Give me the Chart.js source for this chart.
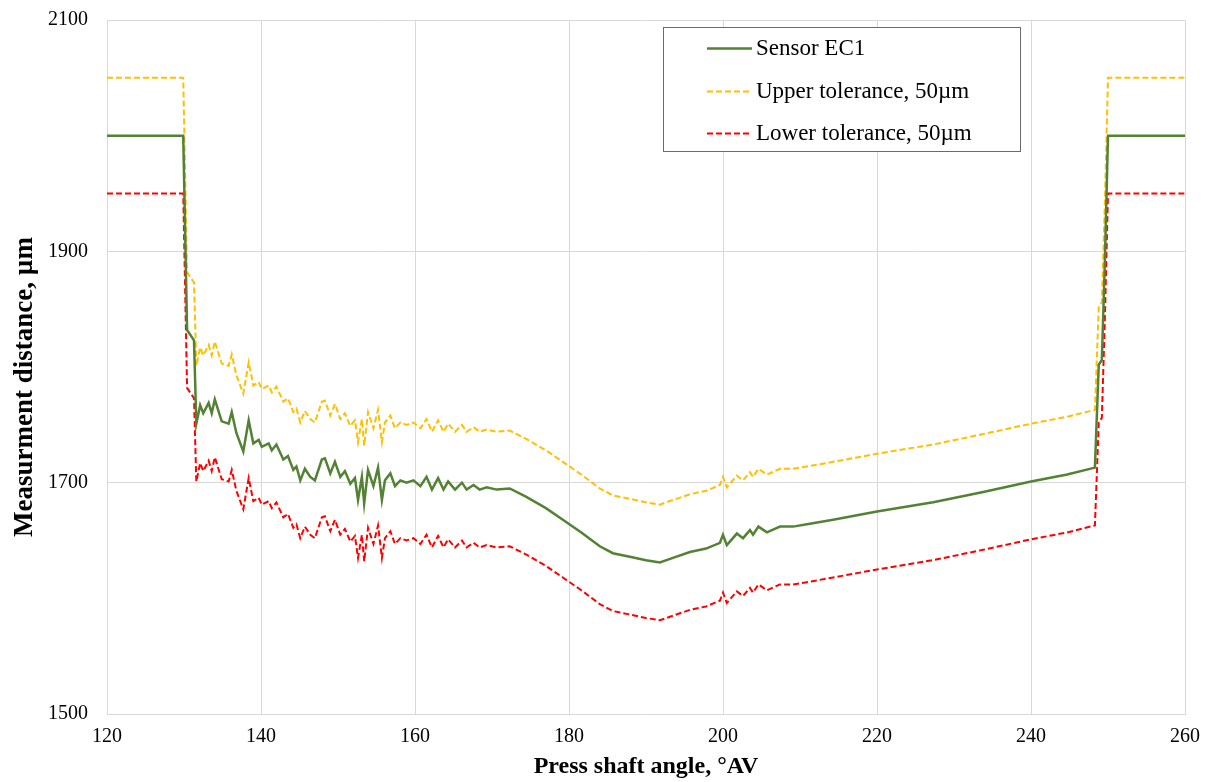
<!DOCTYPE html>
<html>
<head>
<meta charset="utf-8">
<title>Sensor EC1 measurement distance</title>
<script src="https://cdn.jsdelivr.net/npm/chart.js@4/dist/chart.umd.min.js"></script>
<style>
  html, body { margin: 0; padding: 0; background: #fff; }
  #wrap { width: 1208px; height: 782px; position: relative; }
</style>
</head>
<body>
<div id="wrap"><canvas id="grafica"></canvas></div>
<script>
// press shaft angle, °AV
const angles = [
  120, 129.9, 130.4, 131.3, 131.6, 132.1, 132.5, 133.2, 133.6, 134.0,
  134.9, 135.8, 136.2, 136.8, 137.7, 138.4, 139.0, 139.7, 140.1, 141.0,
  141.4, 142.0, 142.9, 143.5, 144.2, 144.6, 145.1, 145.7, 146.4, 147.0,
  147.9, 148.3, 149.0, 149.6, 150.3, 150.9, 151.6, 152.2, 152.6, 153.1,
  153.4, 153.9, 154.6, 155.2, 155.7, 156.1, 156.8, 157.4, 158.1, 158.9,
  159.8, 160.7, 161.5, 162.2, 163.0, 163.7, 164.3, 165.2, 166.1, 166.7,
  167.6, 168.4, 169.3, 170.6, 172.3, 174.4, 177.0, 179.2, 181.6, 184.0,
  185.7, 187.9, 190.0, 191.8, 193.5, 195.7, 197.8, 199.6, 200.0, 200.5,
  201.8, 202.6, 203.5, 203.9, 204.6, 205.7, 207.4, 209.1, 210.9, 214.3,
  220.0, 227.3, 233.8, 240.0, 244.7, 248.3, 248.8, 249.2, 249.6, 250.0,
  260
];

// measured distance, µm
const sensorEC1 = [
  2000, 2000, 1832, 1823, 1751, 1767, 1760, 1769, 1760, 1772,
  1753, 1751, 1761, 1743, 1727, 1754, 1734, 1737, 1731, 1734,
  1728, 1733, 1720, 1723, 1711, 1714, 1702, 1712, 1705, 1702,
  1720, 1721, 1708, 1718, 1705, 1710, 1699, 1704, 1685, 1705,
  1682, 1711, 1697, 1713, 1685, 1702, 1708, 1697, 1702, 1700,
  1702, 1697, 1705, 1694, 1704, 1694, 1701, 1694, 1700, 1694,
  1698, 1694, 1696, 1694, 1695, 1688, 1678, 1668, 1657, 1645,
  1639, 1636, 1633, 1631, 1635, 1640, 1643, 1648, 1655, 1646,
  1656, 1652, 1659, 1655, 1662, 1657, 1662, 1662, 1664, 1668,
  1675, 1683, 1692, 1701, 1707, 1713, 1802, 1806, 1893, 2000,
  2000
];

const upperTol = [
  2050, 2050, 1882, 1873, 1801, 1817, 1810, 1819, 1810, 1822,
  1803, 1801, 1811, 1793, 1777, 1804, 1784, 1787, 1781, 1784,
  1778, 1783, 1770, 1773, 1761, 1764, 1752, 1762, 1755, 1752,
  1770, 1771, 1758, 1768, 1755, 1760, 1749, 1754, 1735, 1755,
  1732, 1761, 1747, 1763, 1735, 1752, 1758, 1747, 1752, 1750,
  1752, 1747, 1755, 1744, 1754, 1744, 1751, 1744, 1750, 1744,
  1748, 1744, 1746, 1744, 1745, 1738, 1728, 1718, 1707, 1695,
  1689, 1686, 1683, 1681, 1685, 1690, 1693, 1698, 1705, 1696,
  1706, 1702, 1709, 1705, 1712, 1707, 1712, 1712, 1714, 1718,
  1725, 1733, 1742, 1751, 1757, 1763, 1852, 1856, 1943, 2050,
  2050
];

const lowerTol = [
  1950, 1950, 1782, 1773, 1701, 1717, 1710, 1719, 1710, 1722,
  1703, 1701, 1711, 1693, 1677, 1704, 1684, 1687, 1681, 1684,
  1678, 1683, 1670, 1673, 1661, 1664, 1652, 1662, 1655, 1652,
  1670, 1671, 1658, 1668, 1655, 1660, 1649, 1654, 1635, 1655,
  1632, 1661, 1647, 1663, 1635, 1652, 1658, 1647, 1652, 1650,
  1652, 1647, 1655, 1644, 1654, 1644, 1651, 1644, 1650, 1644,
  1648, 1644, 1646, 1644, 1645, 1638, 1628, 1618, 1607, 1595,
  1589, 1586, 1583, 1581, 1585, 1590, 1593, 1598, 1605, 1596,
  1606, 1602, 1609, 1605, 1612, 1607, 1612, 1612, 1614, 1618,
  1625, 1633, 1642, 1651, 1657, 1663, 1752, 1756, 1843, 1950,
  1950
];

const seriesNames = ['Sensor EC1', 'Upper tolerance, 50µm', 'Lower tolerance, 50µm'];
const xTicks = [120, 140, 160, 180, 200, 220, 240, 260];
const yTicks = [1500, 1700, 1900, 2100];
const yTitle = 'Measurment distance, µm';

const SERIF = '"Liberation Serif", "Times New Roman", serif';

function puntos(ys) {
  return angles.map((a, i) => ({ x: a, y: ys[i] }));
}

// legend drawn as a framed box inside the plot area, plus the rotated y title
const leyendaCaja = {
  id: 'leyendaCaja',
  afterDraw(chart) {
    const ctx = chart.ctx;
    const box = { x: 663.5, y: 27.5, w: 357, h: 124 };
    ctx.save();
    ctx.fillStyle = '#fff';
    ctx.fillRect(box.x, box.y, box.w, box.h);
    ctx.strokeStyle = '#6b6b6b';
    ctx.lineWidth = 1;
    ctx.strokeRect(box.x, box.y, box.w, box.h);
    const rows = [48, 91, 133];
    chart.data.datasets.forEach((ds, i) => {
      const y = rows[i] + 0.5;
      ctx.beginPath();
      ctx.strokeStyle = ds.borderColor;
      ctx.lineWidth = ds.borderWidth;
      ctx.setLineDash(ds.borderDash || []);
      ctx.moveTo(707, y);
      ctx.lineTo(752, y);
      ctx.stroke();
      ctx.setLineDash([]);
      ctx.fillStyle = '#000';
      ctx.font = '23px ' + SERIF;
      ctx.textBaseline = 'middle';
      ctx.textAlign = 'left';
      ctx.fillText(ds.label, 756, rows[i] + 1);
    });

    // eje Y: titulo girado
    ctx.translate(25, 387);
    ctx.rotate(-Math.PI / 2);
    ctx.font = 'bold 27px ' + SERIF;
    ctx.textAlign = 'center';
    ctx.textBaseline = 'middle';
    ctx.fillStyle = '#000';
    ctx.fillText(yTitle, 0, 0);
    ctx.restore();
  }
};

function dibujarGrafica() {
  const ctx = document.getElementById('grafica').getContext('2d');
  new Chart(ctx, {
    type: 'line',
    data: {
      datasets: [
        { label: seriesNames[0], data: puntos(sensorEC1), borderColor: '#548235', borderWidth: 2.5 },
        { label: seriesNames[1], data: puntos(upperTol), borderColor: '#FFC000', borderWidth: 2, borderDash: [6, 3] },
        { label: seriesNames[2], data: puntos(lowerTol), borderColor: '#FF0000', borderWidth: 2, borderDash: [6, 3] }
      ]
    },
    options: {
      responsive: true,
      maintainAspectRatio: false,
      animation: false,
      elements: { point: { radius: 0 }, line: { tension: 0, fill: false } },
      layout: { padding: { top: 20, right: 23, left: 0, bottom: 0 } },
      plugins: { legend: { display: false }, tooltip: { enabled: false } },
      scales: {
        x: {
          type: 'linear',
          min: 120,
          max: 260,
          afterFit(scale) {
            scale.height = 68;
            scale.paddingLeft = 0;
            scale.paddingRight = 0;
          },
          afterBuildTicks(scale) { scale.ticks = xTicks.map(v => ({ value: v })); },
          grid: { color: '#d9d9d9', drawTicks: false },
          border: { color: '#d9d9d9' },
          ticks: { padding: 11, color: '#000', font: { family: SERIF, size: 20 }, callback: v => String(v) },
          title: {
            display: true,
            text: 'Press shaft angle, °AV',
            color: '#000',
            font: { family: SERIF, size: 24, weight: 'bold' },
            padding: { top: 0, bottom: 1 }
          }
        },
        y: {
          min: 1500,
          max: 2100,
          afterFit(scale) {
            scale.width = 107;
            scale.paddingTop = 0;
            scale.paddingBottom = 0;
          },
          afterBuildTicks(scale) { scale.ticks = yTicks.map(v => ({ value: v })); },
          grid: { color: '#d9d9d9', drawTicks: false },
          border: { color: '#d9d9d9' },
          ticks: { padding: 19, color: '#000', font: { family: SERIF, size: 20 }, callback: v => String(v) }
        }
      }
    },
    plugins: [leyendaCaja]
  });
}

document.addEventListener('DOMContentLoaded', dibujarGrafica);
</script>
</body>
</html>
